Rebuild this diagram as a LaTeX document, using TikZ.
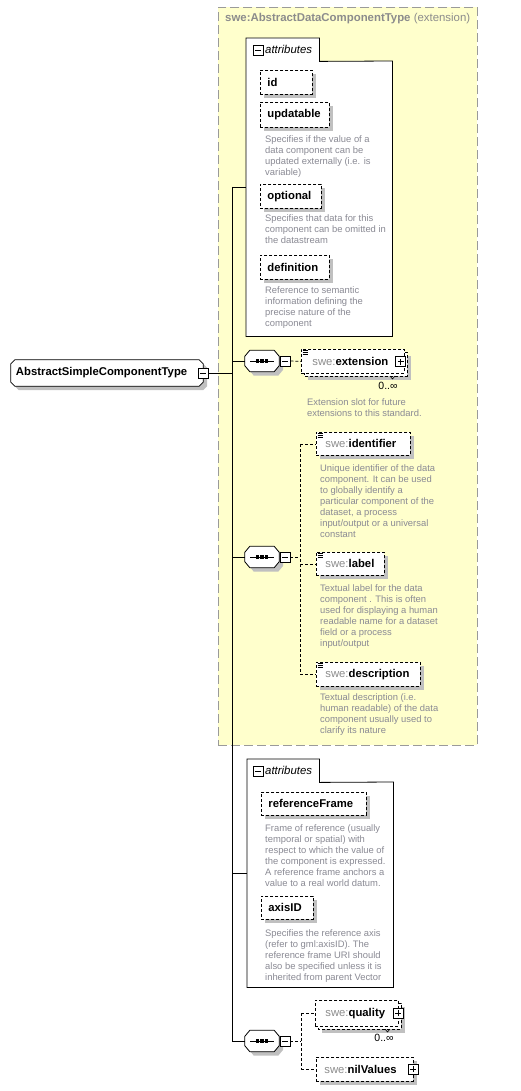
\documentclass[tikz,border=0pt]{standalone}
\usepackage{fontspec}
\setmainfont{Liberation Sans}
\usetikzlibrary{shadows,calc,backgrounds}
\definecolor{panelyellow}{HTML}{FFFFCC}
\definecolor{shadowgray}{HTML}{C0C0C0}
\definecolor{titlegray}{HTML}{8C8C8C}
\definecolor{descgray}{HTML}{8A8A94}
\definecolor{borderg}{HTML}{9A9A9A}
\newcommand\lblfont{\fontsize{11.3}{13}\selectfont\bfseries}
\newcommand\descfont{\fontsize{9.4}{11}\selectfont}
\newcommand\swepfx{\textcolor{titlegray}{\mdseries swe:}}
\newcommand\octagonpath[3]{\draw[line width=0.8pt, fill=white, shd] ([xshift=#2pt]#1.north west) -- ([xshift=-#2pt]#1.north east) -- ([yshift=-#3pt]#1.north east) -- ([yshift=#3pt]#1.south east) -- ([xshift=-#2pt]#1.south east) -- ([xshift=#2pt]#1.south west) -- ([yshift=#3pt]#1.south west) -- ([yshift=-#3pt]#1.north west) -- cycle;}
\tikzset{
 shd/.style={drop shadow={shadow xshift=4pt, shadow yshift=-4pt, opacity=1, fill=shadowgray, draw=none}},
 dsh/.style={dash pattern=on 3pt off 2pt},
 conn/.style={line width=0.8pt},
 attrbox/.style={draw, dsh, fill=white, shd, font=\lblfont, inner xsep=7pt, inner ysep=0pt, minimum height=24pt, anchor=north west, align=left, line width=0.8pt},
 elbox/.style={draw, dsh, fill=white, font=\lblfont, inner ysep=0pt, anchor=north west, align=left, line width=0.8pt},
 desc/.style={font=\descfont, text=descgray, align=left, anchor=north west, inner sep=0pt},
 iconbox/.style={draw, fill=white, minimum size=10pt, inner sep=0pt, line width=0.9pt},
 minusicon/.style={iconbox, path picture={\draw[line width=0.9pt] ([xshift=2pt]path picture bounding box.west) -- ([xshift=-2pt]path picture bounding box.east);}},
 plusicon/.style={iconbox, path picture={\draw[line width=0.9pt] ([xshift=2pt]path picture bounding box.west) -- ([xshift=-2pt]path picture bounding box.east); \draw[line width=0.9pt] ([yshift=2pt]path picture bounding box.south) -- ([yshift=-2pt]path picture bounding box.north);}},
 seqbox/.style={rectangle, minimum width=34pt, minimum height=21pt, inner sep=0pt},
 panel/.style={anchor=north west, inner sep=0pt},
 occ/.style={inner sep=0pt, font=\fontsize{10.5}{12}\selectfont},
 tabtext/.style={anchor=west, inner sep=0pt, font=\fontsize{11.4}{13}\selectfont\itshape},
}
\begin{document}
\begin{tikzpicture}[x=1pt,y=-1pt]
\useasboundingbox (0,0) rectangle (520,1091);
% extension panel
\node[panel, draw=borderg, fill=panelyellow, dash pattern=on 9pt off 4pt, line width=0.8pt, minimum width=259pt, minimum height=738pt] (extpanel) at (218,7) {};
\node[anchor=west, inner sep=0pt, text=titlegray, font=\fontsize{11.4}{13}\selectfont] (title) at (225,19) {\textbf{swe:AbstractDataComponentType} (extension)};

% attributes panel 1
\node[panel, minimum width=146pt, minimum height=275pt] (attr1) at (246,61) {};
\node[panel, minimum width=73pt, minimum height=23pt] (attr1tab) at (246,38) {};
\draw[conn, fill=white] (attr1.south west) -- (attr1tab.north west) -- (attr1tab.north east) -- (attr1tab.south east) -- (attr1.north east) -- (attr1.south east) -- cycle;
\node[minusicon] (attr1icon) at (258,50) {};
\node[tabtext] (attr1lbl) at (265,49.5) {attributes};
\node[attrbox, text width=38pt] (id) at (260,70) {id};
\node[attrbox, text width=55pt, minimum height=25pt] (updatable) at (260,102) {updatable};
\node[desc] (updesc) at (265,134.2) {\strut Specifies if the value of a\\data component can be\\updated externally (i.e. is\\variable)};
\node[attrbox, text width=47pt] (optional) at (260,184) {optional};
\node[desc] (optdesc) at (265,213.2) {\strut Specifies that data for this\\component can be omitted in\\the datastream};
\node[attrbox, text width=55pt] (definition) at (260,255) {definition};
\node[desc] (defdesc) at (265,285.2) {\strut Reference to semantic\\information defining the\\precise nature of the\\component};

% main element
\node[font=\lblfont, minimum height=26pt, text width=182pt, align=left, inner xsep=5pt, inner ysep=0pt] (main) at (107,373) {AbstractSimpleComponentType};
\begin{pgfonlayer}{background}
\octagonpath{main}{4}{4}
\end{pgfonlayer}
\node[minusicon] (mainicon) at (203,373) {};

% sequence 1
\node[seqbox] (seq1) at (262,361) {};
\octagonpath{seq1}{5}{6}
\node[minusicon] (seq1i) at (285,361) {};
\draw[dsh, fill=white, shd, line width=0.8pt] (304,352) rectangle (407,376);
\node[elbox, inner xsep=11pt, text width=81pt, minimum height=24pt] (ext) at (301,349) {\swepfx extension};
\node[plusicon] (exti) at (400.5,361.5) {};
\node[occ] (extocc) at (388,386) {0..∞};
\draw[line width=0.6pt] (390,376) -- (392.5,379) -- (395,376);
\node[desc] (extdesc) at (307,397.2) {\strut Extension slot for future\\extensions to this standard.};

% sequence 2
\node[seqbox] (seq2) at (262,557) {};
\octagonpath{seq2}{5}{6}
\node[minusicon] (seq2i) at (285,557) {};
\node[elbox, inner xsep=9pt, text width=76pt, minimum height=23pt, shd] (identifier) at (316,432) {\swepfx identifier};
\node[desc] (identdesc) at (320,463.2) {\strut Unique identifier of the data\\component. It can be used\\to globally identify a\\particular component of the\\dataset, a process\\input/output or a universal\\constant};
\node[elbox, inner xsep=9pt, text width=50pt, minimum height=23pt, shd] (label) at (316,552) {\swepfx label};
\node[desc] (labeldesc) at (320,583.2) {\strut Textual label for the data\\component . This is often\\used for displaying a human\\readable name for a dataset\\field or a process\\input/output};
\node[elbox, inner xsep=9pt, text width=86pt, minimum height=24pt, shd] (description) at (316,662) {\swepfx description};
\node[desc] (descrdesc) at (320,692.2) {\strut Textual description (i.e.\\human readable) of the data\\component usually used to\\clarify its nature};

% attributes panel 2
\node[panel, minimum width=146pt, minimum height=205pt] (attr2) at (247,782) {};
\node[panel, minimum width=72pt, minimum height=23pt] (attr2tab) at (247,759) {};
\draw[conn, fill=white] (attr2.south west) -- (attr2tab.north west) -- (attr2tab.north east) -- (attr2tab.south east) -- (attr2.north east) -- (attr2.south east) -- cycle;
\node[minusicon] (attr2icon) at (258,771) {};
\node[tabtext] (attr2lbl) at (265,770.5) {attributes};
\node[attrbox, text width=91pt, minimum height=23pt] (refframe) at (261,792) {referenceFrame};
\node[desc] (refdesc) at (265,823.2) {\strut Frame of reference (usually\\temporal or spatial) with\\respect to which the value of\\the component is expressed.\\A reference frame anchors a\\value to a real world datum.};
\node[attrbox, text width=38pt, minimum height=23pt] (axisid) at (261,896) {axisID};
\node[desc] (axisdesc) at (265,928.2) {\strut Specifies the reference axis\\(refer to gml:axisID). The\\reference frame URI should\\also be specified unless it is\\inherited from parent Vector};

% sequence 3
\node[seqbox] (seq3) at (262,1041) {};
\octagonpath{seq3}{5}{6}
\node[minusicon] (seq3i) at (285,1041) {};
\draw[dsh, fill=white, shd, line width=0.8pt] (318,1003) rectangle (401,1029);
\node[elbox, inner xsep=10pt, text width=63pt, minimum height=26pt] (quality) at (315,1000) {\swepfx quality};
\node[plusicon] (qualityi) at (398,1013) {};
\node[occ] (qualocc) at (384,1038) {0..∞};
\draw[line width=0.6pt] (385,1029) -- (387.5,1032) -- (390,1029);
\node[elbox, inner xsep=8pt, text width=81pt, minimum height=24pt, shd] (nilvalues) at (316,1057) {\swepfx nilValues};
\node[plusicon] (nili) at (413,1069) {};

% sequence symbols' dots
\foreach \s in {seq1,seq2,seq3} {
  \draw[line width=0.8pt] ([xshift=-12pt]\s.center) -- ([xshift=12pt]\s.center);
  \foreach \dx in {-4.5,0,4.5} \fill ([xshift=\dx pt]\s.center) +(-1.6,-1.6) rectangle +(1.6,1.6);
}
% element icons
\foreach \n in {ext,identifier,label,description}
  \foreach \d in {1.5,3.5,5.5} \draw[line width=0.6pt] ([shift={(1.5,\d)}]\n.north west) -- ++(5,0);

% connectors
\coordinate (tA) at (232,187);
\coordinate (tB) at (232,361);
\coordinate (tC) at (232,557);
\coordinate (tD) at (232,873);
\coordinate (tE) at (232,1041);
\draw[conn] (mainicon.east) -- (mainicon.east -| tA);
\draw[conn] (tA) -- (tE);
\draw[conn] (tA) -- (tA -| attr1.west);
\draw[conn] (tB) -- (seq1.west);
\draw[conn] (tC) -- (seq2.west);
\draw[conn] (tD) -- (tD -| attr2.west);
\draw[conn] (tE) -- (seq3.west);
\draw[conn, dsh] (seq1i.east) -- (ext.west);
\coordinate (v2) at (300,557);
\draw[conn, dsh] (seq2i.east) -- (v2);
\draw[conn, dsh] (identifier.west -| v2) -- (description.west -| v2);
\draw[conn, dsh] (identifier.west -| v2) -- (identifier.west);
\draw[conn, dsh] (label.west -| v2) -- (label.west);
\draw[conn, dsh] (description.west -| v2) -- (description.west);
\coordinate (v3) at (301,1041);
\draw[conn, dsh] (seq3i.east) -- (v3);
\draw[conn, dsh] (quality.west -| v3) -- (nilvalues.west -| v3);
\draw[conn, dsh] (quality.west -| v3) -- (quality.west);
\draw[conn, dsh] (nilvalues.west -| v3) -- (nilvalues.west);
\end{tikzpicture}
\end{document}
